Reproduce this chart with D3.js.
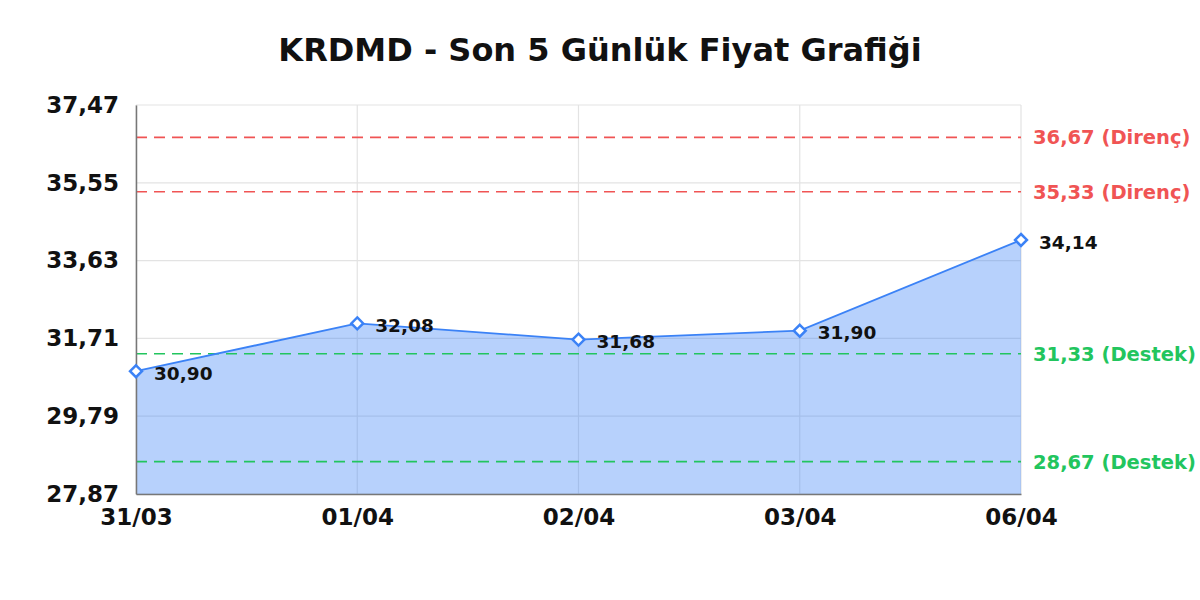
<!DOCTYPE html>
<html><head><meta charset="utf-8">
<script src="https://cdn.jsdelivr.net/npm/d3@7"></script>
<style>
html,body{margin:0;padding:0;background:#fff;}
svg{display:block;font-family:"DejaVu Sans",sans-serif;}
</style></head>
<body>
<svg id="chart" width="1200" height="600"></svg>
<script>
const title = "KRDMD - Son 5 Günlük Fiyat Grafiği";
const dates = ["31/03","01/04","02/04","03/04","06/04"];
const prices = [30.90, 32.08, 31.68, 31.90, 34.14];
const yTicks = [27.87, 29.79, 31.71, 33.63, 35.55, 37.47];
const resistance = [36.67, 35.33];
const support = [31.33, 28.67];

const fmt = v => v.toFixed(2).replace(".", ",");
const margin = {left:136, right:179, top:105, bottom:106};
const W = 1200, H = 600;
const svg = d3.select("#chart");

const x = d3.scalePoint().domain(dates).range([margin.left, W - margin.right]);
const y = d3.scaleLinear().domain([yTicks[0], yTicks[yTicks.length-1]]).range([H - margin.bottom, margin.top]);

svg.append("text").attr("x", 600).attr("y", 61).attr("text-anchor","middle")
  .attr("font-size", 32).attr("font-weight","bold").attr("fill","#111").text(title);

// grid
const g = svg.append("g");
g.selectAll(".hg").data(yTicks).enter().append("line")
  .attr("x1", margin.left).attr("x2", W - margin.right)
  .attr("y1", d => y(d)).attr("y2", d => y(d))
  .attr("stroke", "#e3e3e3").attr("stroke-width", 1.2);
g.selectAll(".vg").data(dates).enter().append("line")
  .attr("x1", d => x(d)).attr("x2", d => x(d))
  .attr("y1", margin.top).attr("y2", H - margin.bottom)
  .attr("stroke", "#e3e3e3").attr("stroke-width", 1.2);

const data = dates.map((d,i) => ({d, v: prices[i]}));

// area
svg.append("path").datum(data)
  .attr("d", d3.area().x(p => x(p.d)).y0(y(yTicks[0])).y1(p => y(p.v)))
  .attr("fill", "rgba(59,130,246,0.37)");

// reference lines
const refs = resistance.map(v => ({v, c:"#f05454", t:"Direnç"}))
  .concat(support.map(v => ({v, c:"#22c55e", t:"Destek"})));
svg.selectAll(".ref").data(refs).enter().append("line")
  .attr("x1", margin.left).attr("x2", W - margin.right)
  .attr("y1", d => y(d.v)).attr("y2", d => y(d.v))
  .attr("stroke", d => d.c).attr("stroke-width", 1.6).attr("stroke-dasharray", "11,7");
svg.selectAll(".reft").data(refs).enter().append("text")
  .attr("x", W - margin.right + 12).attr("y", d => y(d.v)).attr("dy", "0.36em")
  .attr("font-size", 19.5).attr("font-weight", "bold").attr("fill", d => d.c)
  .text(d => fmt(d.v) + " (" + d.t + ")");

// line
svg.append("path").datum(data)
  .attr("d", d3.line().x(p => x(p.d)).y(p => y(p.v)))
  .attr("fill", "none").attr("stroke", "#3b82f6").attr("stroke-width", 1.8);

// axes
const yAxis = svg.append("g").attr("transform", `translate(${margin.left},0)`)
  .call(d3.axisLeft(y).tickValues(yTicks).tickFormat(fmt).tickSize(0).tickPadding(17));
const xAxis = svg.append("g").attr("transform", `translate(0,${H - margin.bottom})`)
  .call(d3.axisBottom(x).tickSize(0).tickPadding(15));
[yAxis, xAxis].forEach(a => {
  a.select(".domain").attr("stroke", "#777").attr("stroke-width", 1.5);
  a.selectAll("text").attr("font-size", 23).attr("font-weight", "bold")
    .attr("fill", "#111").attr("font-family", "DejaVu Sans, sans-serif");
});

// markers
svg.selectAll(".pt").data(data).enter().append("path")
  .attr("d", d3.symbol(d3.symbolDiamond2, 90))
  .attr("transform", p => `translate(${x(p.d)},${y(p.v)})`)
  .attr("fill", "#fff").attr("stroke", "#3b82f6").attr("stroke-width", 2.5);

// value labels
svg.selectAll(".vl").data(data).enter().append("text")
  .attr("x", p => x(p.d) + 18).attr("y", p => y(p.v) + 2).attr("dy", "0.36em")
  .attr("font-size", 18.5).attr("font-weight", "bold").attr("fill", "#111")
  .text(p => fmt(p.v));
</script>
</body></html>
